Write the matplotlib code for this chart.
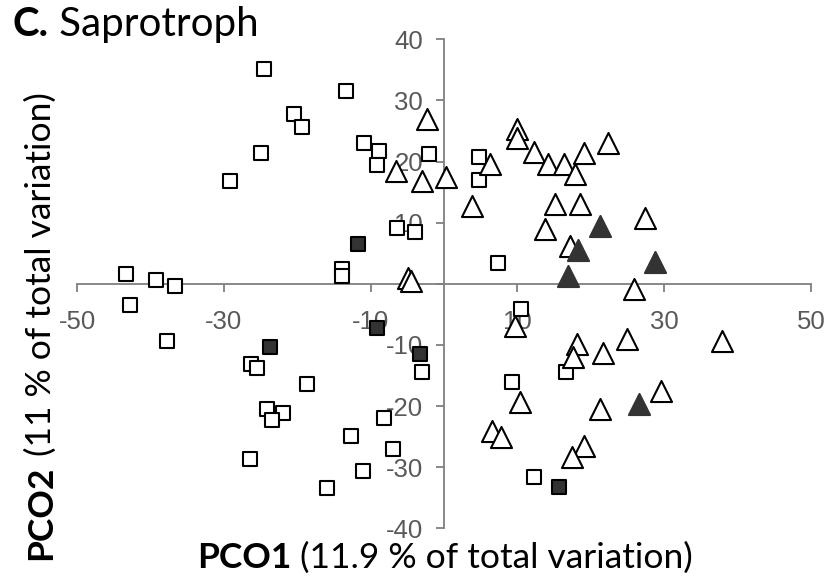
import matplotlib.pyplot as plt

plt.rcParams['axes.unicode_minus'] = False

# open squares
sq_open_x = [-24.5, -13.4, -20.5, -19.4, -25.0, -29.1, -10.9, -8.9, -9.1, -2.1,
             -6.4, -3.9, -13.9, -13.9, -43.3, -39.2, -36.6, 4.8, 4.8, 7.3,
             -42.8, -37.8, -26.3, -25.5, -18.7, -24.1, -22.0, -23.4, -26.4, -15.9,
             -12.7, -11.0, -8.2, -6.9, -3.0, 10.5, 16.6, 9.2, 12.2]
sq_open_y = [35.1, 31.6, 27.7, 25.6, 21.4, 16.8, 23.1, 21.7, 19.4, 21.2,
             9.2, 8.5, 2.5, 1.3, 1.6, 0.7, -0.4, 20.8, 16.9, 3.4,
             -3.4, -9.4, -13.2, -13.8, -16.4, -20.5, -21.1, -22.3, -28.6, -33.4,
             -24.9, -30.7, -21.9, -27.1, -14.5, -4.1, -14.5, -16.0, -31.6]

# filled squares
sq_fill_x = [-11.7, -23.7, -9.1, -3.3, 15.6]
sq_fill_y = [6.5, -10.3, -7.3, -11.5, -33.2]

# open triangles
tri_open_x = [-2.3, -6.6, -3.0, 0.3, 3.8, 6.2, 9.9, 9.9, 12.2, 14.2,
              16.3, 17.8, 19.0, 22.4, 15.1, 18.5, 13.7, 27.4, 17.2, -4.9,
              -4.5, 25.9, 9.7, 18.1, 17.6, 21.7, 24.9, 37.8, 10.3, 21.2,
              29.5, 6.6, 7.8, 19.0, 17.5]
tri_open_y = [26.9, 18.5, 16.8, 17.4, 12.7, 19.6, 25.3, 23.9, 21.5, 19.6,
              19.6, 17.9, 21.4, 23.1, 13.0, 13.0, 8.9, 10.8, 6.2, 1.0,
              0.4, -0.8, -6.9, -9.9, -11.9, -11.4, -9.1, -9.4, -19.4, -20.5,
              -17.5, -24.1, -25.0, -26.5, -28.4]

# filled triangles
tri_fill_x = [21.3, 18.3, 28.8, 16.9, 26.5]
tri_fill_y = [9.5, 5.6, 3.5, 1.3, -19.7]

x_ticks = [-50, -30, -10, 10, 30, 50]
y_ticks = [-40, -30, -20, -10, 0, 10, 20, 30, 40]

fig = plt.figure(figsize=(8.31, 5.77), dpi=100)
ax = fig.add_axes([0.0927, 0.0844, 0.8833, 0.8475])

ax.scatter(sq_open_x, sq_open_y, marker='s', s=95, facecolors='white',
           edgecolors='black', linewidths=1.5, zorder=3)
ax.scatter(sq_fill_x, sq_fill_y, marker='s', s=95, facecolors='#333333',
           edgecolors='black', linewidths=1.5, zorder=3)
ax.scatter(tri_open_x, tri_open_y, marker='^', s=230, facecolors='white',
           edgecolors='black', linewidths=1.5, zorder=3)
ax.scatter(tri_fill_x, tri_fill_y, marker='^', s=230, facecolors='#333333',
           edgecolors='#333333', linewidths=1.5, zorder=3)

ax.set_xlim(-50, 50)
ax.set_ylim(-40, 40)

# axes cross at the origin
for side in ['top', 'right']:
    ax.spines[side].set_visible(False)
ax.spines['left'].set_position(('data', 0))
ax.spines['bottom'].set_position(('data', 0))
for side in ['left', 'bottom']:
    ax.spines[side].set_color('#7f7f7f')
    ax.spines[side].set_linewidth(1.3)
    ax.spines[side].set_zorder(1)

ax.set_xticks(x_ticks)
ax.set_yticks(y_ticks)
ax.set_yticklabels([str(v) if v != 0 else '' for v in y_ticks])
ax.tick_params(axis='both', colors='#7f7f7f', labelcolor='#595959',
               labelsize=18.5, length=6, width=1.3)
ax.tick_params(axis='x', pad=13)
ax.tick_params(axis='y', pad=9)
for lab in ax.get_xticklabels() + ax.get_yticklabels():
    lab.set_fontfamily('Liberation Sans')

# title and axis labels, bold prefix + regular rest
lab_font = 'Lato'
t1 = fig.text(0.0156, 0.938, 'C.', fontsize=29, fontweight='bold',
              family=lab_font, va='baseline')
ax.annotate(' Saprotroph', xy=(1, 0), xycoords=t1, fontsize=29,
            family=lab_font, va='bottom', ha='left', annotation_clip=False)

x1 = fig.text(0.237, 0.0156, 'PCO1', fontsize=25.5, fontweight='bold',
              family=lab_font, va='baseline')
ax.annotate(' (11.9 % of total variation)', xy=(1, 0), xycoords=x1,
            fontsize=25.5, family=lab_font, va='bottom', ha='left',
            annotation_clip=False)

y1 = fig.text(0.03, 0.03, 'PCO2', fontsize=25.5, fontweight='bold',
              family=lab_font, rotation=90, ha='left', va='bottom')
ax.annotate(' (11 % of total variation)', xy=(0, 1), xycoords=y1,
            fontsize=25.5, family=lab_font, rotation=90, ha='left',
            va='bottom', annotation_clip=False)

fig.savefig('out.png', dpi=100)
